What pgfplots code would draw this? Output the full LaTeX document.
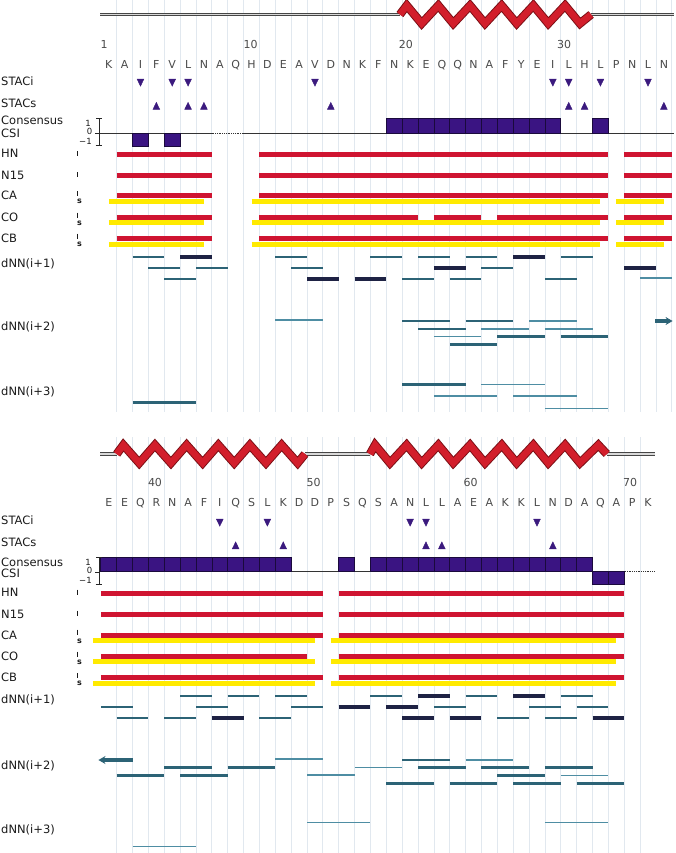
\documentclass[border=0pt]{standalone}
\usepackage{pgfplots}
\pgfplotsset{compat=1.18}
\usetikzlibrary{arrows.meta}
\usepackage{fontspec}
\setmainfont{DejaVu Sans}

\definecolor{helixred}{HTML}{D21E2B}
\definecolor{helixedge}{HTML}{7A0E14}
\definecolor{barred}{HTML}{CF1431}
\definecolor{baryel}{HTML}{FFEA00}
\definecolor{stac}{HTML}{3B1A7E}
\definecolor{csifill}{HTML}{3A1482}
\definecolor{csiedge}{HTML}{1A0A3C}
\definecolor{nnteal}{HTML}{2C6376}
\definecolor{nnnavy}{HTML}{1E2244}
\definecolor{nnthin}{HTML}{4E8DA3}
\definecolor{gridc}{HTML}{E1E8EF}
\definecolor{labc}{HTML}{1A1A1A}
\definecolor{seqc}{HTML}{4A4A4A}

% CSI boxes, one residue wide
\pgfdeclareplotmark{csiup}{\pgfpathrectanglecorners{\pgfpoint{-7.93pt}{0pt}}{\pgfpoint{7.93pt}{14.5pt}}\pgfusepathqfillstroke}
\pgfdeclareplotmark{csidown}{\pgfpathrectanglecorners{\pgfpoint{-7.93pt}{0pt}}{\pgfpoint{7.93pt}{-13pt}}\pgfusepathqfillstroke}

\pgfplotsset{
  panel/.style={x=15.86pt, y=1pt, y dir=reverse, anchor=north west,
    enlargelimits=false, clip=false, axis line style={draw=none},
    major tick length=0pt, xticklabels={}, ytick=\empty,
    xmajorgrids, grid style={gridc, line width=0.8pt}},
  seg/.style={quiver={u=\thisrow{w}, v=0}},
  redbar/.style={seg, barred, line width=5pt},
  yelbar/.style={seg, baryel, line width=5pt},
  nnmid/.style={seg, nnteal, line width=2.8pt},
  nnnav/.style={seg, nnnavy, line width=4pt},
  nnthn/.style={seg, nnthin, line width=1.4pt},
  coil/.style={draw=gray!55!black, double=gray!30, double distance=1.8pt, line width=1pt},
  helixA/.style={helixedge, line width=8.5pt, line join=miter, miter limit=4},
  helixB/.style={helixred, line width=6.6pt, line join=miter, miter limit=4},
  stacdown/.style={only marks, stac, mark=triangle*, mark size=3.9pt, mark options={rotate=180, yscale=1.2, fill=stac}},
  stacup/.style={only marks, stac, mark=triangle*, mark size=3.9pt, mark options={yscale=1.2, fill=stac}},
  csiu/.style={only marks, mark=csiup, mark options={fill=csifill, draw=csiedge, line width=0.7pt}},
  csid/.style={only marks, mark=csidown, mark options={fill=csifill, draw=csiedge, line width=0.7pt}},
  nnarrow/.style={nnmid, line width=3.2pt, -{Stealth[length=7pt,width=8pt]}},
}

\tikzset{
  lab/.style={anchor=base west, inner sep=0pt, text=labc, font=\fontsize{11.5}{12}\selectfont},
  seq/.style={anchor=base, inner sep=0pt, text=seqc, font=\fontsize{11}{12}\selectfont},
  sml/.style={inner sep=0pt, text=labc, font=\fontsize{8.5}{9}\selectfont},
}

\begin{document}
\begin{tikzpicture}
\path[use as bounding box] (0pt,0pt) rectangle (675pt,-853pt);

% ---------------- residues 1-36 ----------------
\begin{axis}[panel, at={(0pt,0pt)}, xmin=-5.858, xmax=36.70, ymin=0, ymax=412,
  xtick={1.5,2.5,...,36.5}]
\addplot[coil] coordinates {(0.45,14.5) (19.36,14.5)};
\addplot[coil] coordinates {(31.41,14.5) (36.65,14.5)};
\addplot[helixA] coordinates {(19.36,14.5) (19.79,5.5) (20.73,23.5) (21.78,5.5) (22.72,23.5) (23.78,5.5) (24.72,23.5) (25.77,5.5) (26.72,23.5) (27.77,5.5) (28.71,23.5) (29.77,5.5) (30.71,23.5) (31.41,14.5)};
\addplot[helixB] coordinates {(19.36,14.5) (19.79,5.5) (20.73,23.5) (21.78,5.5) (22.72,23.5) (23.78,5.5) (24.72,23.5) (25.77,5.5) (26.72,23.5) (27.77,5.5) (28.71,23.5) (29.77,5.5) (30.71,23.5) (31.41,14.5)};

\addplot[stacdown] coordinates {(3,81.5) (5,81.5) (6,81.5) (14,81.5) (29,81.5) (30,81.5) (32,81.5) (35,81.5)};
\addplot[stacup] coordinates {(4,107) (6,107) (7,107) (15,107) (30,107) (31,107) (36,107)};

% CSI baseline and boxes
\addplot[gray!40!black, line width=0.8pt] coordinates {(0.45,133) (7.58,133)};
\addplot[gray!40!black, line width=0.8pt, densely dotted] coordinates {(7.58,133) (9.4,133)};
\addplot[gray!40!black, line width=0.8pt] coordinates {(9.4,133) (36.65,133)};
\addplot[csiu] coordinates {(19,133) (20,133) (21,133) (22,133) (23,133) (24,133) (25,133) (26,133) (27,133) (28,133) (29,133) (32,133)};
\addplot[csid] coordinates {(3,133) (5,133)};

% chemical shift rows
\addplot[yelbar] table {
x y w
1.0 201 6
10.0 201 22
33.0 201 3
1.0 222.7 6
10.0 222.7 22
33.0 222.7 3
1.0 244 6
10.0 244 22
33.0 244 3
};
\addplot[redbar] table {
x y w
1.5 154 6
10.5 154 22
33.5 154 3
1.5 175 6
10.5 175 22
33.5 175 3
1.5 195.7 6
10.5 195.7 22
33.5 195.7 3
1.5 217.3 6
10.5 217.3 10
21.5 217.3 3
25.5 217.3 7
33.5 217.3 3
1.5 238.3 6
10.5 238.3 22
33.5 238.3 3
};

% NOE contacts
\addplot[nnmid] table {
x y w
2.5 257 2
11.5 257 2
17.5 257 2
20.5 257 2
23.5 257 2
29.5 257 2
3.5 268 2
6.5 268 2
12.5 268 2
24.5 268 2
4.5 279 2
19.5 279 2
22.5 279 2
28.5 279 2
19.5 321 3
23.5 321 3
20.5 329 3
25.5 336.7 3
29.5 336.7 3
22.5 344.7 3
2.5 402.7 4
19.5 384.3 4
};
\addplot[nnnav] table {
x y w
5.5 257 2
26.5 257 2
21.5 268 2
33.5 268 2
13.5 279 2
16.5 279 2
};
\addplot[nnthn] table {
x y w
34.5 278 2
11.5 320 3
27.5 321 3
24.5 329 3
28.5 329 3
21.5 336.7 3
24.5 384.3 4
21.5 396 4
26.5 396 4
28.5 408.3 4
};
\addplot[nnarrow] table {
x y w
35.45 321 1.1
};
\end{axis}

% ---------------- residues 37-71 ----------------
\begin{axis}[panel, at={(0pt,-437pt)}, xmin=30.142, xmax=72.70, ymin=437, ymax=853,
  xtick={37.5,38.5,...,70.5}]
\addplot[coil] coordinates {(36.45,454) (37.5,454)};
\addplot[coil] coordinates {(49.37,454) (53.47,454)};
\addplot[coil] coordinates {(68.4,454) (71.44,454)};
\addplot[helixA] coordinates {(37.5,454) (37.92,445) (38.92,463) (39.91,445) (40.92,463) (41.91,445) (42.92,463) (43.91,445) (44.91,463) (45.9,445) (46.91,463) (47.9,445) (48.91,463) (49.37,454)};
\addplot[helixB] coordinates {(37.5,454) (37.92,445) (38.92,463) (39.91,445) (40.92,463) (41.91,445) (42.92,463) (43.91,445) (44.91,463) (45.9,445) (46.91,463) (47.9,445) (48.91,463) (49.37,454)};
\addplot[helixA] coordinates {(53.47,454) (53.79,445) (54.73,463) (55.78,445) (56.73,463) (57.78,445) (58.72,463) (59.78,445) (60.72,463) (61.78,445) (62.72,463) (63.77,445) (64.71,463) (65.77,445) (66.71,463) (67.87,445) (68.4,454)};
\addplot[helixB] coordinates {(53.47,454) (53.79,445) (54.73,463) (55.78,445) (56.73,463) (57.78,445) (58.72,463) (59.78,445) (60.72,463) (61.78,445) (62.72,463) (63.77,445) (64.71,463) (65.77,445) (66.71,463) (67.87,445) (68.4,454)};

\addplot[stacdown] coordinates {(44,521.5) (47,521.5) (56,521.5) (57,521.5) (64,521.5)};
\addplot[stacup] coordinates {(45,546.5) (48,546.5) (57,546.5) (58,546.5) (65,546.5)};

\addplot[gray!40!black, line width=0.8pt] coordinates {(36.45,571.7) (69.44,571.7)};
\addplot[gray!40!black, line width=0.8pt, densely dotted] coordinates {(69.44,571.7) (71.44,571.7)};
\addplot[csiu] coordinates {(37,571.7) (38,571.7) (39,571.7) (40,571.7) (41,571.7) (42,571.7) (43,571.7) (44,571.7) (45,571.7) (46,571.7) (47,571.7) (48,571.7) (52,571.7) (54,571.7) (55,571.7) (56,571.7) (57,571.7) (58,571.7) (59,571.7) (60,571.7) (61,571.7) (62,571.7) (63,571.7) (64,571.7) (65,571.7) (66,571.7) (67,571.7)};
\addplot[csid] coordinates {(68,571.7) (69,571.7)};

\addplot[yelbar] table {
x y w
36.0 640.7 14
51.0 640.7 18
36.0 661.7 14
51.0 661.7 18
36.0 683.3 14
51.0 683.3 18
};
\addplot[redbar] table {
x y w
36.5 593.3 14
51.5 593.3 18
36.5 614 14
51.5 614 18
36.5 635 14
51.5 635 18
36.5 656 13
51.5 656 18
36.5 677.3 14
51.5 677.3 18
};

\addplot[nnmid] table {
x y w
41.5 696 2
44.5 696 2
47.5 696 2
53.5 696 2
59.5 696 2
65.5 696 2
36.5 707 2
42.5 707 2
48.5 707 2
57.5 707 2
63.5 707 2
66.5 707 2
37.5 718 2
40.5 718 2
46.5 718 2
61.5 718 2
64.5 718 2
40.5 767.7 3
44.5 767.7 3
37.5 775.3 3
41.5 775.3 3
55.5 760 3
56.5 767.3 3
60.5 767.3 3
64.5 767.3 3
61.5 775.7 3
54.5 783.7 3
58.5 783.7 3
62.5 783.7 3
66.5 783.7 3
};
\addplot[nnnav] table {
x y w
56.5 696 2
62.5 696 2
51.5 707 2
54.5 707 2
43.5 718 2
55.5 718 2
58.5 718 2
67.5 718 2
};
\addplot[nnthn] table {
x y w
47.5 759 3
59.5 760 3
52.5 767.3 3
49.5 775 3
65.5 775.7 3
49.5 822.3 4
64.5 822.7 4
38.5 846.7 4
};
\addplot[nnarrow] table {
x y w
38.5 760 -2.15
};
\end{axis}

% ---------------- text ----------------
\foreach \l [count=\i] in {K,A,I,F,V,L,N,A,Q,H,D,E,A,V,D,N,K,F,N,K,E,Q,Q,N,A,F,Y,E,I,L,H,L,P,N,L,N}
  \node[seq] at ({(108.77+(\i-1)*15.86)*1pt}, -68.3pt) {\l};
\foreach \l [count=\i] in {E,E,Q,R,N,A,F,I,Q,S,L,K,D,D,P,S,Q,S,A,N,L,L,A,E,A,K,K,L,N,D,A,Q,A,P,K}
  \node[seq] at ({(108.77+(\i-1)*15.86)*1pt}, -506pt) {\l};
\node[seq] at (104pt,-48.3pt) {1};
\node[seq] at (250.5pt,-48.3pt) {10};
\node[seq] at (405.8pt,-48.3pt) {20};
\node[seq] at (564pt,-48.3pt) {30};
\node[seq] at (155pt,-486.7pt) {40};
\node[seq] at (313.7pt,-486.7pt) {50};
\node[seq] at (470.5pt,-486.7pt) {60};
\node[seq] at (630pt,-486.7pt) {70};

\foreach \t/\y in {STACi/85.5, STACs/107.5, Consensus/124.3, CSI/137.5, HN/158, N15/179, CA/199.5, CO/221, CB/242, dNN(i+1)/267.5, dNN(i+2)/330.5, dNN(i+3)/395,
  STACi/524.5, STACs/546, Consensus/566, CSI/577, HN/596.3, N15/618, CA/639, CO/660, CB/681.5, dNN(i+1)/703, dNN(i+2)/769.5, dNN(i+3)/833}
  \node[lab] at (1pt,-\y pt) {\t};

% CSI scale brackets
\foreach \o in {0,439.4}{
  \draw[gray!30!black, line width=0.8pt] (96pt,{-(118.3+\o)*1pt}) -- (101.5pt,{-(118.3+\o)*1pt})
    (99.3pt,{-(118.3+\o)*1pt}) -- (99.3pt,{-(145.3+\o)*1pt})
    (95.5pt,{-(145.3+\o)*1pt}) -- (102pt,{-(145.3+\o)*1pt})
    (95pt,{-(133+\o)*1pt}) -- (99.3pt,{-(133+\o)*1pt});
  \node[sml] at (88pt,{-(123+\o)*1pt}) {1};
  \node[sml] at (89.5pt,{-(131+\o)*1pt}) {0};
  \node[sml] at (85.5pt,{-(141+\o)*1pt}) {−1};
}

% i / s markers
\foreach \a in {151.5,172.5,191,212.5,233.5,589.5,610.5,629.5,651.5,673}
  \draw[labc, line width=0.8pt] (77.5pt,-\a pt) -- (77.5pt,{-(\a+5)*1pt});
\foreach \a in {201.5,223,244.5,641,662,683}
  \node[sml, font=\fontsize{8}{8}\selectfont\bfseries] at (79.5pt,-\a pt) {s};
\end{tikzpicture}
\end{document}
